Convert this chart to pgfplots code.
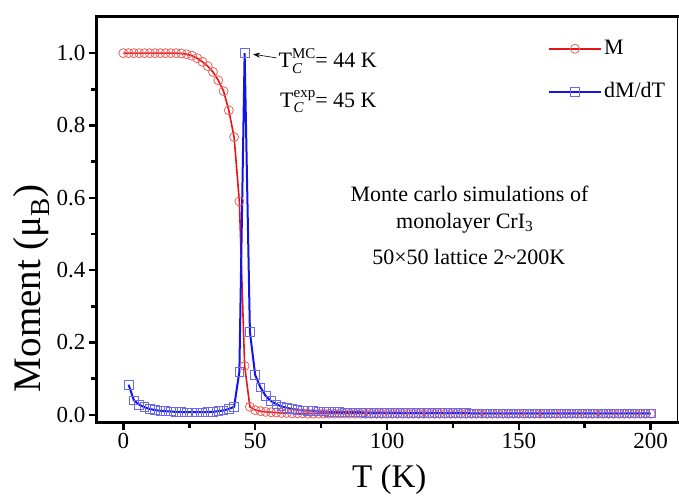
\documentclass[border=0pt]{standalone}
\usepackage{pgfplots}
\pgfplotsset{compat=1.18}
\usepackage{fontspec}
\setmainfont{Liberation Serif}
\usetikzlibrary{arrows.meta}
\definecolor{mred}{RGB}{230,20,20}
\definecolor{mredm}{RGB}{238,95,95}
\definecolor{mblue}{RGB}{20,20,230}
\definecolor{mbluem}{RGB}{105,105,235}

\pgfplotstableread{
T M
0 1.000
2 1.000
4 1.000
6 1.000
8 1.000
10 1.000
12 1.000
14 1.000
16 1.000
18 1.000
20 1.000
22 0.999
24 0.997
26 0.993
28 0.986
30 0.976
32 0.964
34 0.948
36 0.925
38 0.895
40 0.842
42 0.768
44 0.590
46 0.135
48 0.022
50 0.013
52 0.010
54 0.008
56 0.007
58 0.006
60 0.005
62 0.005
64 0.004
66 0.004
68 0.004
70 0.003
72 0.003
74 0.003
76 0.003
78 0.003
80 0.003
82 0.003
84 0.003
86 0.003
88 0.003
90 0.003
92 0.003
94 0.003
96 0.003
98 0.003
100 0.003
102 0.003
104 0.003
106 0.003
108 0.003
110 0.003
112 0.003
114 0.003
116 0.003
118 0.003
120 0.003
122 0.003
124 0.003
126 0.003
128 0.003
130 0.003
132 0.003
134 0.003
136 0.003
138 0.003
140 0.003
142 0.003
144 0.003
146 0.003
148 0.003
150 0.003
152 0.003
154 0.003
156 0.003
158 0.003
160 0.003
162 0.003
164 0.003
166 0.003
168 0.003
170 0.003
172 0.003
174 0.003
176 0.003
178 0.003
180 0.003
182 0.003
184 0.003
186 0.003
188 0.003
190 0.003
192 0.003
194 0.003
196 0.003
198 0.003
200 0.003
}\tabM

\pgfplotstableread{
T D
2 0.083
4 0.040
6 0.028
8 0.021
10 0.016
12 0.013
14 0.011
16 0.010
18 0.009
20 0.008
22 0.008
24 0.007
26 0.007
28 0.007
30 0.007
32 0.008
34 0.008
36 0.010
38 0.012
40 0.016
42 0.022
44 0.119
46 1.000
48 0.229
50 0.110
52 0.076
54 0.052
56 0.038
58 0.029
60 0.023
62 0.019
64 0.016
66 0.014
68 0.012
70 0.011
72 0.010
74 0.009
76 0.009
78 0.008
80 0.008
82 0.008
84 0.007
86 0.007
88 0.007
90 0.007
92 0.006
94 0.006
96 0.006
98 0.006
100 0.006
102 0.006
104 0.005
106 0.005
108 0.005
110 0.005
112 0.005
114 0.005
116 0.005
118 0.005
120 0.005
122 0.005
124 0.005
126 0.005
128 0.005
130 0.005
132 0.004
134 0.004
136 0.004
138 0.004
140 0.004
142 0.004
144 0.004
146 0.004
148 0.004
150 0.004
152 0.004
154 0.004
156 0.004
158 0.004
160 0.004
162 0.004
164 0.004
166 0.004
168 0.004
170 0.004
172 0.004
174 0.004
176 0.004
178 0.004
180 0.004
182 0.004
184 0.004
186 0.004
188 0.004
190 0.004
192 0.004
194 0.004
196 0.004
198 0.004
200 0.004
}\tabD

\begin{document}
\begin{tikzpicture}
\begin{axis}[
  at={(0,0)}, anchor=south west,
  scale only axis, width=580pt, height=405pt,
  xmin=-10, xmax=210, ymin=-0.02, ymax=1.1,
  axis x line*=bottom, axis y line*=left,
  axis line style={line width=3pt, line cap=rect},
  tick align=outside,
  xtick={0,50,100,150,200},
  ytick={0,0.2,0.4,0.6,0.8,1.0},
  minor x tick num=1, minor y tick num=1,
  major tick length=8pt, minor tick length=6pt,
  every tick/.style={black, line width=2.5pt},
  /pgf/number format/assume math mode=true,
  tick label style={font=\fontsize{23}{27}\selectfont},
  yticklabel style={/pgf/number format/.cd, fixed, fixed zerofill, precision=1},
  xlabel={T (K)},
  ylabel={Moment (μ\textsubscript{B})},
  every axis x label/.style={at={(rel axis cs:0.504,-0.141)}, anchor=center, font=\fontsize{33}{38}\selectfont},
  every axis y label/.style={at={(rel axis cs:-0.113,0.33)}, rotate=90, anchor=center, font=\fontsize{39}{44}\selectfont},
  legend style={at={(rel axis cs:0.772,0.958)}, anchor=north west, draw=none, fill=none,
    font=\fontsize{22}{26}\selectfont, row sep=18pt,
    nodes={inner sep=2pt, text height=16pt, text depth=5pt}},
  legend cell align=left,
  legend image code/.code={\draw[mark repeat=2,mark phase=2,#1] plot coordinates {(0cm,0cm) (0.915cm,0cm) (1.83cm,0cm)};},
  clip=false,
]
\addplot[color=mred, line width=1.6pt, mark=o, mark size=4.5pt,
  mark options={draw=mredm, fill=white, line width=0.8pt, solid}] table[x=T, y=M] {\tabM};
\addlegendentry{M}
\addplot[color=mblue, line width=2pt, mark=square, mark size=4.3pt,
  mark options={draw=mbluem, fill=white, line width=0.8pt, solid}] table[x=T, y=D] {\tabD};
\addlegendentry{dM/dT}

\draw[-{Stealth[length=7pt,width=5pt]}, line width=0.6pt] (axis cs:58.1,0.987) -- (axis cs:49.2,0.997);
\node[anchor=base west, font=\fontsize{22}{26}\selectfont, inner sep=0pt] at (axis cs:58.8,0.959)
  {T\rlap{\raisebox{-0.55ex}{\fontsize{15}{17}\selectfont\itshape C}}\raisebox{0.95ex}{\fontsize{15}{17}\selectfont MC}= 44 K};
\node[anchor=base west, font=\fontsize{22}{26}\selectfont, inner sep=0pt] at (axis cs:59.4,0.851)
  {T\rlap{\raisebox{-0.55ex}{\fontsize{15}{17}\selectfont\itshape C}}\raisebox{0.95ex}{\fontsize{15}{17}\selectfont exp}= 45 K};

\node[font=\fontsize{22}{26}\selectfont, inner sep=0pt] at (axis cs:131.3,0.611) {Monte carlo simulations of};
\node[font=\fontsize{22}{26}\selectfont, inner sep=0pt] at (axis cs:129.5,0.531) {monolayer CrI\textsubscript{3}};
\node[font=\fontsize{22}{26}\selectfont, inner sep=0pt] at (axis cs:131,0.435) {50×50 lattice 2\textasciitilde 200K};
\end{axis}
\draw[line width=3pt, line cap=rect] (0pt,405pt) -- (580pt,405pt);
\draw[line width=1pt] (580pt,0pt) -- (580pt,405pt);
\pgfresetboundingbox
\path (-97pt,-77pt) rectangle (582pt,422pt);
\end{tikzpicture}
\end{document}
